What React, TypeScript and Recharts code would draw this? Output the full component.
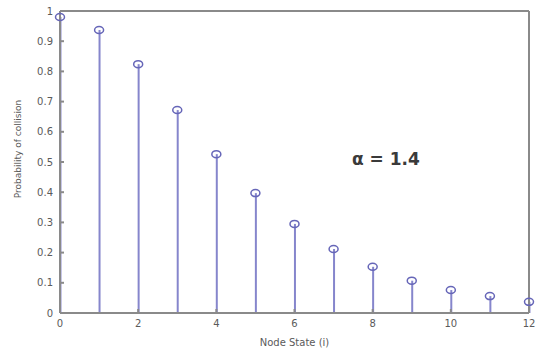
import { Bar, ComposedChart, Line, XAxis, YAxis } from "recharts";

// node state i and collision probability
const states = [0, 1, 2, 3, 4, 5, 6, 7, 8, 9, 10, 11, 12];
const probs = [0.98, 0.937, 0.824, 0.672, 0.526, 0.397, 0.295, 0.212, 0.153, 0.107, 0.076, 0.056, 0.037];
const xTicks = [0, 2, 4, 6, 8, 10, 12];
const yTicks = [0, 0.1, 0.2, 0.3, 0.4, 0.5, 0.6, 0.7, 0.8, 0.9, 1];

const data = states.map((s, i) => ({ i: s, p: probs[i] }));

const axisColor = "#8a8a8a";
const tickFont = { fontSize: 10, fill: "#5a5a5a", fontFamily: "DejaVu Sans" };

const Stem = (props: any) => {
  const { x, y, width, height } = props;
  const cx = x + width / 2;
  return <line x1={cx} x2={cx} y1={y} y2={y + height} stroke="#8686cc" strokeWidth={2} />;
};

const Marker = (props: any) => {
  const { cx, cy, index } = props;
  return (
    <ellipse key={`m-${index}`} cx={cx} cy={cy} rx={4.5} ry={3.5} fill="none" stroke="#6666b8" strokeWidth={1.5} />
  );
};

export default function App() {
  return (
    <div style={{ position: "absolute", left: 0, top: 0, width: 537, height: 349, background: "#fff" }}>
      <ComposedChart width={537} height={349} data={data} margin={{ top: 10, right: 7, bottom: 0, left: 0 }}>
        <XAxis
          dataKey="i"
          type="number"
          domain={[0, 12]}
          ticks={xTicks}
          height={36}
          stroke={axisColor}
          strokeWidth={2}
          tickSize={-4}
          tickMargin={11}
          tick={tickFont}
          label={{ value: "Node State (i)", position: "insideBottom", offset: 3, fontSize: 10, fill: "#5a5a5a", fontFamily: "DejaVu Sans" }}
        />
        <XAxis
          xAxisId="top"
          dataKey="i"
          orientation="top"
          type="number"
          domain={[0, 12]}
          ticks={xTicks}
          height={1}
          stroke={axisColor}
          strokeWidth={2}
          tickSize={-4}
          tick={false}
        />
        <YAxis
          type="number"
          domain={[0, 1]}
          ticks={yTicks}
          width={60}
          stroke={axisColor}
          strokeWidth={2}
          tickSize={-4}
          tickMargin={11}
          tick={tickFont}
          label={{
            value: "Probability of collision",
            angle: -90,
            position: "insideLeft",
            offset: 18,
            dy: -13,
            fontSize: 9,
            fill: "#5a5a5a",
            fontFamily: "DejaVu Sans",
            style: { textAnchor: "middle" },
          }}
        />
        <YAxis
          yAxisId="right"
          orientation="right"
          type="number"
          domain={[0, 1]}
          ticks={yTicks}
          width={1}
          stroke={axisColor}
          strokeWidth={2}
          tickSize={-4}
          tick={false}
        />
        <Bar dataKey="p" barSize={2} shape={Stem} isAnimationActive={false} />
        {/* invisible series so the top and right box axes get drawn */}
        <Line xAxisId="top" yAxisId="right" dataKey="p" stroke="none" dot={false} activeDot={false} isAnimationActive={false} />
        <Line dataKey="p" stroke="none" dot={Marker} activeDot={false} isAnimationActive={false} />
      </ComposedChart>
      <div
        style={{
          position: "absolute",
          left: 352,
          top: 149,
          fontFamily: "DejaVu Sans",
          fontSize: 17,
          fontWeight: 600,
          color: "#3a3a3a",
          whiteSpace: "nowrap",
        }}
      >
        α = 1.4
      </div>
    </div>
  );
}
